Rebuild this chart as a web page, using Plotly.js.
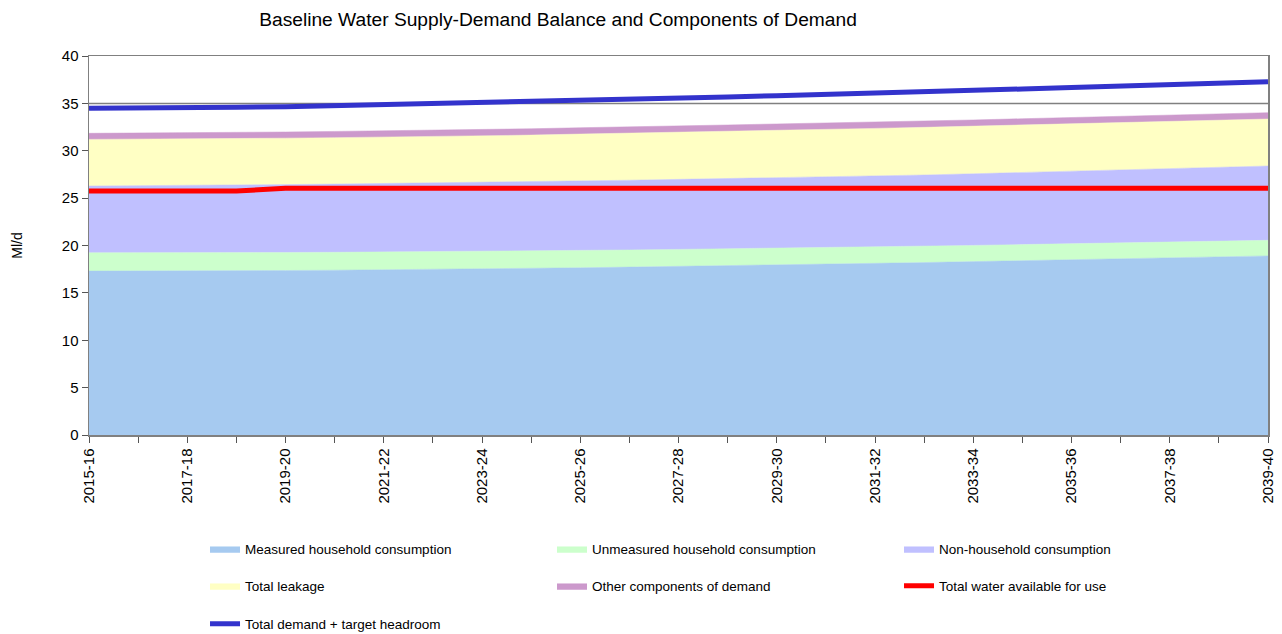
<!DOCTYPE html>
<html>
<head>
<meta charset="utf-8">
<script src="https://cdn.plot.ly/plotly-3.0.1.min.js"></script>
<style>html,body{margin:0;padding:0;background:#fff;}#chart{width:1282px;height:634px;}</style>
</head>
<body>
<div id="chart"></div>
<script>
const categories = ["2015-16","2016-17","2017-18","2018-19","2019-20","2020-21","2021-22","2022-23","2023-24","2024-25","2025-26","2026-27","2027-28","2028-29","2029-30","2030-31","2031-32","2032-33","2033-34","2034-35","2035-36","2036-37","2037-38","2038-39","2039-40"];
const measured = [17.30,17.30,17.31,17.33,17.36,17.39,17.43,17.47,17.52,17.58,17.65,17.72,17.79,17.87,17.95,18.03,18.11,18.20,18.30,18.40,18.50,18.60,18.70,18.80,18.90];
const unmeasured = [1.94,1.93,1.92,1.91,1.90,1.89,1.88,1.87,1.85,1.84,1.83,1.81,1.80,1.78,1.77,1.75,1.73,1.72,1.71,1.70,1.69,1.68,1.67,1.66,1.65];
const nonHousehold = [7.04,7.07,7.10,7.14,7.17,7.20,7.23,7.26,7.29,7.31,7.34,7.36,7.39,7.41,7.43,7.45,7.48,7.52,7.56,7.61,7.65,7.70,7.74,7.79,7.84];
const leakage = [4.92,4.92,4.91,4.91,4.90,4.90,4.90,4.89,4.90,4.92,4.94,4.96,4.98,5.00,5.02,5.03,5.04,5.03,5.02,5.01,5.00,4.99,4.98,4.97,4.96];
const otherDemand = [0.64,0.64,0.65,0.65,0.65,0.66,0.66,0.67,0.67,0.67,0.67,0.66,0.66,0.66,0.66,0.66,0.66,0.66,0.66,0.66,0.67,0.67,0.67,0.67,0.67];
const availableForUse = [25.75,25.75,25.75,25.75,26.05,26.05,26.05,26.05,26.05,26.05,26.05,26.05,26.05,26.05,26.05,26.05,26.05,26.05,26.05,26.05,26.05,26.05,26.05,26.05,26.05];
const demandPlusHeadroom = [34.48,34.49,34.52,34.58,34.65,34.75,34.85,34.96,35.07,35.19,35.31,35.43,35.56,35.68,35.81,35.93,36.06,36.21,36.37,36.52,36.67,36.83,36.98,37.14,37.29];
const tickLabels = ["2015-16","","2017-18","","2019-20","","2021-22","","2023-24","","2025-26","","2027-28","","2029-30","","2031-32","","2033-34","","2035-36","","2037-38","","2039-40"];
const yTicks = [0,5,10,15,20,25,30,35,40];

const FONT = "Liberation Sans, Arial, sans-serif";

function area(name, y, color, legend) {
  return {type:'scatter', mode:'lines', name:name, x:categories, y:y, stackgroup:'demand',
    fill:'tonexty', fillcolor:color, line:{color:color, width:0.5}, legend:legend, hoverinfo:'skip'};
}

const traces = [
  area('Measured household consumption', measured, '#A6CAF0', 'legend'),
  area('Unmeasured household consumption', unmeasured, '#CCFFCC', 'legend'),
  area('Non-household consumption', nonHousehold, '#C0C0FF', 'legend'),
  area('Total leakage', leakage, '#FFFFC4', 'legend2'),
  area('Other components of demand', otherDemand, '#CC99CC', 'legend2'),
  {type:'scatter', mode:'lines', name:'Total water available for use', x:categories, y:availableForUse,
    line:{color:'#FF0000', width:5}, legend:'legend2', hoverinfo:'skip'},
  {type:'scatter', mode:'lines', name:'Total demand + target headroom', x:categories, y:demandPlusHeadroom,
    line:{color:'#3333CC', width:5}, legend:'legend3', hoverinfo:'skip'}
];

const legendBase = {orientation:'h', x:0.0984, xanchor:'left', yanchor:'middle',
  entrywidth:302, entrywidthmode:'pixels', font:{family:FONT, size:13.5, color:'#000'},
  bgcolor:'rgba(0,0,0,0)', traceorder:'normal'};

const layout = {
  width:1282, height:634,
  margin:{l:89, r:14, t:56, b:199, autoexpand:false},
  paper_bgcolor:'#fff', plot_bgcolor:'#fff',
  font:{family:FONT, color:'#000'},
  title:{text:'Baseline Water Supply-Demand Balance and Components of Demand',
    font:{family:FONT, size:19.2, color:'#000'}, x:558/1282, xanchor:'center', xref:'container',
    y:1-19/634, yanchor:'middle', yref:'container'},
  xaxis:{type:'category', range:[0, categories.length-1], tickmode:'array', tickvals:categories, ticktext:tickLabels,
    tickangle:-90, ticks:'outside', ticklen:6, tickcolor:'#555', tickwidth:1,
    showline:true, linecolor:'#808080', linewidth:1.5, mirror:true, showgrid:false, zeroline:false,
    tickfont:{family:FONT, size:15, color:'#000'}},
  yaxis:{range:[0,40], tickmode:'array', tickvals:yTicks, ticks:'outside', ticklen:6, tickcolor:'#555',
    showline:true, linecolor:'#808080', linewidth:1.5, mirror:true, showgrid:false, zeroline:false,
    tickfont:{family:FONT, size:15, color:'#000'},
    title:{text:'Ml/d', font:{family:FONT, size:14, color:'#000'}, standoff:36}},
  shapes:[{type:'line', xref:'paper', x0:0, x1:1, yref:'y', y0:35, y1:35, layer:'below',
    line:{color:'#808080', width:1.5}}],
  legend:Object.assign({}, legendBase, {y:(435-549)/379}),
  legend2:Object.assign({}, legendBase, {y:(435-586)/379}),
  legend3:Object.assign({}, legendBase, {y:(435-624)/379}),
  showlegend:true
};

Plotly.newPlot('chart', traces, layout, {displayModeBar:false, staticPlot:true});
</script>
</body>
</html>
